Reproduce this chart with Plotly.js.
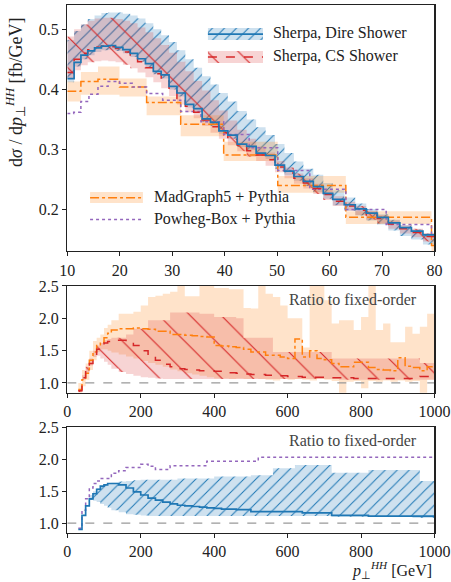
<!DOCTYPE html>
<html><head><meta charset="utf-8">
<script src="https://cdn.plot.ly/plotly-3.0.1.min.js"></script>
<style>html,body{margin:0;padding:0;background:#fff}#chart{width:451px;height:582px}</style>
</head><body><div id="chart"></div>
<script>
// ===== Top panel: d sigma / d pT(HH), 10-80 GeV =====
const sherpaEdges = [10,11.3,12.6,13.9,15.2,16.5,17.8,19.2,20.6,22.0,23.4,24.9,26.4,27.9,29.4,30.9,32.5,34.1,35.7,37.3,38.9,40.6,42.4,44.2,46.0,47.8,49.6,51.4,53.2,55.0,56.9,58.8,60.6,62.8,64.9,67.0,69.1,71.2,73.4,75.6,77.8,80];
const direCentral = [0.418,0.445,0.457,0.464,0.469,0.472,0.473,0.470,0.466,0.460,0.451,0.443,0.430,0.424,0.405,0.394,0.375,0.368,0.351,0.345,0.331,0.324,0.309,0.305,0.294,0.290,0.274,0.264,0.255,0.247,0.238,0.227,0.217,0.208,0.201,0.194,0.187,0.178,0.170,0.164,0.158];
const direLow = [0.412,0.438,0.450,0.457,0.462,0.465,0.466,0.464,0.460,0.454,0.446,0.436,0.425,0.418,0.400,0.388,0.370,0.362,0.346,0.339,0.326,0.318,0.304,0.299,0.289,0.284,0.268,0.257,0.248,0.239,0.229,0.218,0.207,0.198,0.190,0.182,0.175,0.165,0.156,0.150,0.142];
const direHigh = [0.482,0.497,0.508,0.517,0.523,0.527,0.528,0.528,0.526,0.523,0.518,0.510,0.500,0.490,0.479,0.465,0.450,0.436,0.422,0.408,0.394,0.380,0.364,0.350,0.337,0.324,0.309,0.294,0.280,0.268,0.258,0.244,0.232,0.220,0.210,0.201,0.192,0.183,0.174,0.167,0.160];
const csCentral = [0.428,0.450,0.460,0.466,0.470,0.472,0.471,0.468,0.462,0.455,0.446,0.436,0.426,0.414,0.400,0.385,0.372,0.362,0.349,0.338,0.328,0.317,0.307,0.298,0.291,0.283,0.271,0.261,0.252,0.244,0.235,0.225,0.214,0.206,0.199,0.191,0.185,0.176,0.168,0.162,0.155];
const csLow = [0.418,0.432,0.440,0.445,0.447,0.448,0.447,0.445,0.441,0.435,0.428,0.420,0.412,0.402,0.389,0.375,0.362,0.352,0.339,0.328,0.318,0.307,0.297,0.288,0.281,0.273,0.262,0.252,0.243,0.235,0.226,0.216,0.206,0.198,0.191,0.183,0.177,0.168,0.160,0.154,0.147];
const csHigh = [0.488,0.500,0.508,0.514,0.518,0.519,0.519,0.517,0.514,0.510,0.503,0.495,0.485,0.474,0.461,0.446,0.430,0.414,0.398,0.382,0.365,0.348,0.333,0.318,0.305,0.295,0.281,0.270,0.260,0.252,0.243,0.233,0.222,0.213,0.206,0.198,0.191,0.182,0.174,0.168,0.161];
const mgEdges = [10,12.59,15.85,19.95,25.12,31.62,39.81,50.12,63.10,79.43,80];
const mgCentral = [0.397,0.413,0.417,0.404,0.378,0.342,0.291,0.240,0.187,0.140];
const mgLow = [0.380,0.391,0.391,0.388,0.357,0.322,0.281,0.228,0.176,0.130];
const mgHigh = [0.413,0.429,0.438,0.418,0.388,0.357,0.313,0.256,0.197,0.150];
const powhegEdges = [10,11.22,12.59,14.13,15.85,17.78,19.95,22.39,25.12,28.18,31.62,35.48,39.81,44.67,50.12,56.23,63.10,70.79,79.43,80];
const powhegCentral = [0.360,0.362,0.380,0.392,0.405,0.413,0.410,0.404,0.393,0.382,0.363,0.346,0.325,0.303,0.265,0.234,0.200,0.175,0.155];

// ===== Ratio panels: 0-1000 GeV =====
const ratioEdges = [30,40,50,60,70,80,90,100,110,120,140,160,180,200,220,240,260,280,300,320,340,360,380,400,420,440,460,480,500,520,540,560,580,600,620,640,660,680,700,720,740,760,780,800,820,840,860,880,900,920,940,960,980,1000];
const mgRatio = [0.90,1.05,1.15,1.35,1.48,1.58,1.63,1.70,1.77,1.82,1.84,1.84,1.85,1.84,1.83,1.80,1.80,1.75,1.75,1.74,1.73,1.72,1.71,1.58,1.57,1.56,1.55,1.52,1.48,1.48,1.43,1.43,1.40,1.38,1.68,1.40,1.50,1.38,1.36,1.30,1.25,1.25,1.32,1.32,1.24,1.21,1.20,1.19,1.39,1.26,1.24,1.19,1.25];
const mgRatioLow = [0.85,0.95,1.05,1.20,1.35,1.48,1.52,1.52,1.50,1.47,1.44,1.41,1.38,1.34,1.31,1.28,1.25,1.21,1.18,1.15,1.13,1.11,1.09,1.07,1.07,1.06,1.07,1.06,1.07,1.06,1.05,1.04,1.06,1.05,1.06,1.05,1.04,1.06,1.05,1.03,0.80,1.02,1.03,0.92,1.03,1.02,1.04,1.02,1.04,1.02,1.03,0.80,1.05];
const mgRatioHigh = [1.00,1.20,1.30,1.50,1.65,1.70,1.75,1.85,1.90,1.97,2.07,2.07,2.10,2.20,2.33,2.35,2.38,2.41,2.60,2.34,2.34,2.60,2.60,2.47,2.47,2.45,2.45,2.16,2.15,2.60,2.38,2.33,2.20,2.00,2.00,1.55,2.60,2.60,2.28,1.92,1.97,1.97,1.82,2.02,2.60,1.82,1.92,1.63,1.63,1.87,1.76,1.87,2.07];
const csRatio = [0.88,1.08,1.20,1.30,1.42,1.52,1.58,1.62,1.64,1.66,1.66,1.63,1.58,1.50,1.42,1.35,1.29,1.25,1.22,1.21,1.20,1.19,1.19,1.18,1.18,1.16,1.15,1.14,1.13,1.13,1.12,1.12,1.11,1.10,1.10,1.09,1.09,1.09,1.08,1.08,1.08,1.08,1.07,1.07,1.07,1.07,1.07,1.07,1.07,1.07,1.07,1.10,1.10];
const csRatioLow = [0.86,1.05,1.16,1.27,1.40,1.42,1.38,1.33,1.28,1.22,1.17,1.14,1.11,1.09,1.08,1.07,1.06,1.06,1.06,1.06,1.06,1.06,1.06,1.06,1.06,1.06,1.06,1.06,1.06,1.06,1.06,1.06,1.06,1.06,1.06,1.06,1.06,1.06,1.06,1.06,1.05,1.05,1.05,1.05,1.05,1.05,1.05,1.05,1.05,1.05,1.05,1.05,1.05];
const csRatioHigh = [0.90,1.12,1.25,1.38,1.50,1.58,1.62,1.66,1.68,1.70,1.70,1.75,1.84,1.84,1.97,1.97,1.97,2.09,2.09,2.09,2.09,2.07,2.07,2.02,2.02,2.02,2.00,1.70,1.70,1.70,1.70,1.48,1.48,1.48,1.48,1.48,1.48,1.48,1.48,1.38,1.38,1.38,1.38,1.38,1.38,1.38,1.38,1.38,1.38,1.38,1.38,1.31,1.31];
const direRatio = [0.90,1.12,1.27,1.38,1.46,1.53,1.58,1.60,1.62,1.62,1.60,1.55,1.49,1.44,1.39,1.36,1.33,1.30,1.28,1.27,1.26,1.25,1.24,1.23,1.22,1.22,1.21,1.21,1.18,1.18,1.18,1.18,1.18,1.18,1.18,1.16,1.16,1.16,1.16,1.12,1.12,1.12,1.12,1.12,1.11,1.11,1.11,1.11,1.11,1.11,1.11,1.11,1.11];
const direRatioLow = [0.90,1.12,1.27,1.36,1.35,1.33,1.30,1.27,1.24,1.20,1.17,1.14,1.13,1.12,1.11,1.11,1.11,1.11,1.11,1.11,1.11,1.11,1.11,1.11,1.11,1.11,1.11,1.11,1.11,1.11,1.11,1.11,1.11,1.11,1.11,1.11,1.11,1.11,1.11,1.10,1.10,1.10,1.10,1.10,1.10,1.10,1.10,1.10,1.10,1.10,1.08,1.08,1.08];
const direRatioHigh = [0.90,1.12,1.28,1.44,1.50,1.55,1.58,1.60,1.62,1.63,1.65,1.66,1.67,1.68,1.68,1.68,1.68,1.68,1.70,1.70,1.70,1.70,1.70,1.73,1.73,1.73,1.73,1.73,1.75,1.75,1.75,1.86,1.86,1.86,1.91,1.91,1.91,1.91,1.91,1.79,1.79,1.79,1.79,1.79,1.83,1.83,1.83,1.83,1.83,1.83,1.83,1.66,1.66];
const powhegRatio = [0.92,1.20,1.38,1.55,1.62,1.66,1.70,1.70,1.70,1.78,1.82,1.87,1.87,1.92,1.89,1.84,1.84,1.90,1.90,1.90,1.90,1.90,1.97,1.97,1.97,1.97,1.97,1.97,1.97,2.03,2.03,2.03,2.03,2.03,2.03,2.03,2.03,2.03,2.03,2.03,2.03,2.03,2.03,2.03,2.03,2.03,2.03,2.03,2.03,2.03,2.03,2.03,2.03];

// ===== labels =====
const legendLabels = ['Sherpa, Dire Shower','Sherpa, CS Shower','MadGraph5 + Pythia','Powheg-Box + Pythia'];
const ratioLabel = 'Ratio to fixed-order';
const yTitle = 'd<i>σ</i> / d<i>p</i><sub>⊥</sub><sup><i>HH</i></sup> [fb/GeV]';
const xTitle = '<i>p</i><sub>⊥</sub><sup><i>HH</i></sup> [GeV]';
const topTicksX = [10,20,30,40,50,60,70,80];
const topTicksY = [0.2,0.3,0.4,0.5];
const ratioTicksX = [0,200,400,600,800,1000];
const ratioTicksY = [1.0,1.5,2.0,2.5];

// ===== styles =====
const F = 'Liberation Serif, Times New Roman, serif';
const FS = 16;
const C = {blue:'#1f77b4', red:'#d62728', orange:'#ff7f0e', purple:'#9467bd'};
const FILL = {blue:'rgba(31,119,180,0.22)', red:'rgba(214,39,40,0.20)', orange:'rgba(255,127,14,0.22)'};
const PAT = {
  blue: {shape:'/', fgcolor:C.blue, bgcolor:FILL.blue, size:8.5, solidity:0.12},
  red: {shape:'\\', fgcolor:C.red, bgcolor:FILL.red, size:22, solidity:0.05}
};

function step(edges, vals){ return {x: edges.slice(), y: vals.concat([vals[vals.length-1]])}; }
function line(edges, vals, xa, ya, color, dash, width){
  const s = step(edges, vals);
  return {type:'scatter', mode:'lines', x:s.x, y:s.y, xaxis:xa, yaxis:ya, hoverinfo:'skip',
          line:{shape:'hv', color:color, dash:dash, width:width||1.5}};
}
function band(edges, lo, hi, xa, ya, fillcolor, pattern){
  const a = step(edges, lo), b = step(edges, hi);
  const t1 = {type:'scatter', mode:'lines', x:a.x, y:a.y, xaxis:xa, yaxis:ya, hoverinfo:'skip',
              line:{shape:'hv', width:0, color:'rgba(0,0,0,0)'}};
  const t2 = {type:'scatter', mode:'lines', x:b.x, y:b.y, xaxis:xa, yaxis:ya, hoverinfo:'skip',
              line:{shape:'hv', width:0, color:'rgba(0,0,0,0)'}, fill:'tonexty', fillcolor:fillcolor};
  if (pattern) t2.fillpattern = pattern;
  return [t1, t2];
}
function label(x, y, txt, pos, xa, ya, color){
  return {type:'scatter', mode:'text', x:[x], y:[y], text:[txt], textposition:pos, xaxis:xa, yaxis:ya,
          cliponaxis:false, hoverinfo:'skip', textfont:{family:F, size:FS, color:color||'#222'}};
}

const traces = [];
// top panel
traces.push(...band(sherpaEdges, direLow, direHigh, 'x', 'y', FILL.blue, PAT.blue));
traces.push(...band(sherpaEdges, csLow, csHigh, 'x', 'y', FILL.red, PAT.red));
traces.push(...band(mgEdges, mgLow, mgHigh, 'x', 'y', FILL.orange, null));
traces.push(line(mgEdges, mgCentral, 'x', 'y', C.orange, 'dashdot', 1.5));
traces.push(line(powhegEdges, powhegCentral, 'x', 'y', C.purple, 'dot', 1.5));
traces.push(line(sherpaEdges, csCentral, 'x', 'y', C.red, 'dash', 1.5));
traces.push(line(sherpaEdges, direCentral, 'x', 'y', C.blue, 'solid', 1.7));
// middle ratio panel
traces.push(...band(ratioEdges, mgRatioLow, mgRatioHigh, 'x2', 'y2', FILL.orange, null));
traces.push(...band(ratioEdges, csRatioLow, csRatioHigh, 'x2', 'y2', FILL.red, PAT.red));
traces.push({type:'scatter', mode:'lines', x:[0,1000], y:[1,1], xaxis:'x2', yaxis:'y2', hoverinfo:'skip', line:{color:'#999', dash:'dash', width:1.3}});
traces.push(line(ratioEdges, mgRatio, 'x2', 'y2', C.orange, 'dashdot', 1.5));
traces.push(line(ratioEdges, csRatio, 'x2', 'y2', C.red, 'dash', 1.5));
// bottom ratio panel
traces.push(...band(ratioEdges, direRatioLow, direRatioHigh, 'x3', 'y3', FILL.blue, PAT.blue));
traces.push({type:'scatter', mode:'lines', x:[0,1000], y:[1,1], xaxis:'x3', yaxis:'y3', hoverinfo:'skip', line:{color:'#999', dash:'dash', width:1.3}});
traces.push(line(ratioEdges, powhegRatio, 'x3', 'y3', C.purple, 'dot', 1.5));
traces.push(line(ratioEdges, direRatio, 'x3', 'y3', C.blue, 'solid', 1.7));

// legend samples (axes-fraction coordinates on overlay axes)
function legendBox(x0, x1, y0, y1, fillcolor, pattern){
  const t = {type:'scatter', mode:'lines', x:[x0,x1,x1,x0,x0], y:[y0,y0,y1,y1,y0], xaxis:'x4', yaxis:'y4', hoverinfo:'skip',
             line:{width:0, color:'rgba(0,0,0,0)'}, fill:'toself', fillcolor:fillcolor};
  if (pattern) t.fillpattern = pattern;
  return t;
}
function legendLine(x0, x1, y, color, dash, width){
  return {type:'scatter', mode:'lines', x:[x0,x1], y:[y,y], xaxis:'x4', yaxis:'y4', hoverinfo:'skip', line:{color:color, dash:dash, width:width||1.5}};
}
traces.push(legendBox(0.383,0.533,0.858,0.907, FILL.blue, PAT.blue));
traces.push(legendLine(0.383,0.533,0.882, C.blue, 'solid', 1.7));
traces.push(legendBox(0.383,0.533,0.764,0.813, FILL.red, PAT.red));
traces.push(legendLine(0.383,0.533,0.789, C.red, 'dash', 1.5));
traces.push(legendBox(0.062,0.206,0.195,0.240, FILL.orange, null));
traces.push(legendLine(0.062,0.206,0.217, C.orange, 'dashdot', 1.5));
traces.push(legendLine(0.062,0.206,0.128, C.purple, 'dot', 1.5));
traces.push(label(0.560, 0.882, legendLabels[0], 'middle right', 'x4', 'y4'));
traces.push(label(0.560, 0.789, legendLabels[1], 'middle right', 'x4', 'y4'));
traces.push(label(0.236, 0.217, legendLabels[2], 'middle right', 'x4', 'y4'));
traces.push(label(0.236, 0.128, legendLabels[3], 'middle right', 'x4', 'y4'));
// panel labels
traces.push(label(0.95, 0.862, ratioLabel, 'middle left', 'x5', 'y5', '#444'));
traces.push(label(0.95, 0.863, ratioLabel, 'middle left', 'x6', 'y6', '#444'));

const axisBase = {showline:true, linecolor:'#222', linewidth:1.3, mirror:true, ticks:'outside', ticklen:4, tickwidth:1,
  tickcolor:'#222', showgrid:false, zeroline:false, tickfont:{family:F, size:FS, color:'#222'}, fixedrange:true};
const hidden = {range:[0,1], visible:false, fixedrange:true};
const dx = [0.1492, 0.9634];

const layout = {
  width:451, height:582, margin:{l:0, r:0, t:0, b:0}, paper_bgcolor:'#fff', plot_bgcolor:'#fff', showlegend:false,
  font:{family:F, size:FS, color:'#222'},
  xaxis: Object.assign({}, axisBase, {domain:dx, anchor:'y', range:[10,80], tickvals:topTicksX}),
  yaxis: Object.assign({}, axisBase, {domain:[0.5687,0.9914], anchor:'x', range:[0.131,0.5404], tickvals:topTicksY, tickformat:'.1f'}),
  xaxis2: Object.assign({}, axisBase, {domain:dx, anchor:'y2', range:[0,1000], tickvals:ratioTicksX}),
  yaxis2: Object.assign({}, axisBase, {domain:[0.3253,0.5086], anchor:'x2', range:[0.85,2.5], tickvals:ratioTicksY, tickformat:'.1f'}),
  xaxis3: Object.assign({}, axisBase, {domain:dx, anchor:'y3', range:[0,1000], tickvals:ratioTicksX}),
  yaxis3: Object.assign({}, axisBase, {domain:[0.0847,0.2658], anchor:'x3', range:[0.85,2.5], tickvals:ratioTicksY, tickformat:'.1f'}),
  xaxis4: Object.assign({overlaying:'x'}, hidden),
  yaxis4: Object.assign({overlaying:'y'}, hidden),
  xaxis5: Object.assign({overlaying:'x2'}, hidden),
  yaxis5: Object.assign({overlaying:'y2'}, hidden),
  xaxis6: Object.assign({overlaying:'x3'}, hidden),
  yaxis6: Object.assign({overlaying:'y3'}, hidden),
  annotations: [
    {xref:'paper', yref:'paper', x:15.5/451, y:1-92.5/582, xanchor:'center', yanchor:'middle', textangle:-90, showarrow:false,
     text:yTitle, font:{family:F, size:18, color:'#222'}},
    {xref:'paper', yref:'paper', x:434/451, y:1-570/582, xanchor:'right', yanchor:'middle', showarrow:false,
     text:xTitle, font:{family:F, size:16, color:'#222'}}
  ]
};

Plotly.newPlot('chart', traces, layout, {staticPlot:true, displayModeBar:false});
</script>
</body></html>
